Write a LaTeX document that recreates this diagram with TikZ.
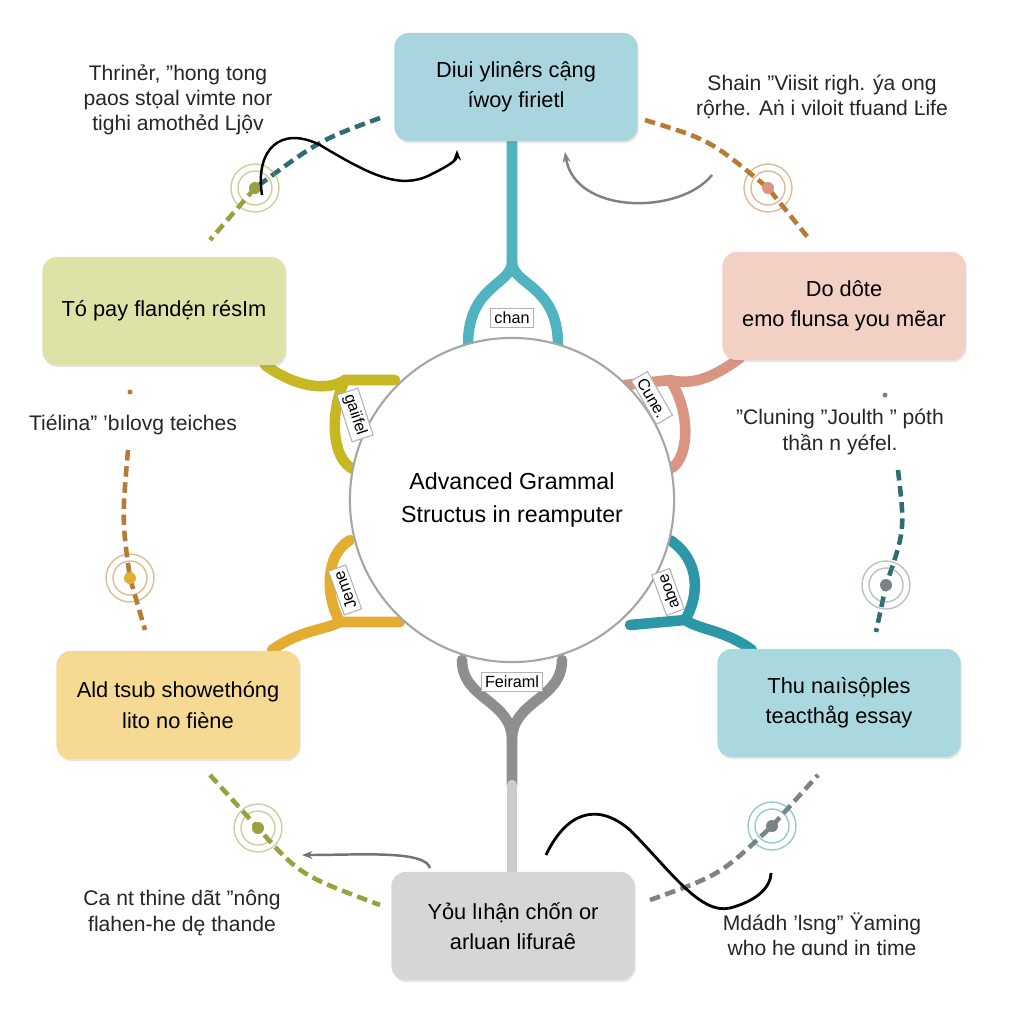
\documentclass[tikz,border=0pt]{standalone}
\usepackage{fontspec}
\setmainfont{Liberation Sans}
\usetikzlibrary{arrows.meta,shadows}
\definecolor{cTop}{HTML}{A9D6DE}
\definecolor{cLU}{HTML}{DEE2A6}
\definecolor{cRU}{HTML}{F3D0C4}
\definecolor{cLL}{HTML}{F6D992}
\definecolor{cRL}{HTML}{AAD8DF}
\definecolor{cBot}{HTML}{D6D6D6}
\definecolor{lTop}{HTML}{4FB3C0}
\definecolor{lLU}{HTML}{C7B722}
\definecolor{lRU}{HTML}{DA9582}
\definecolor{lLL}{HTML}{E3AE30}
\definecolor{lRL}{HTML}{2C97A7}
\definecolor{lBot}{HTML}{8E8E8E}
\definecolor{dTeal}{HTML}{2F6D72}
\definecolor{dOlive}{HTML}{9AA040}
\definecolor{dBrown}{HTML}{B87A35}
\definecolor{dGray}{HTML}{7A8488}
\tikzset{
 box/.style={draw=none,rounded corners=4pt,minimum width=2.43cm,minimum height=1.08cm,align=center,font=\fontsize{6.2}{8.6}\selectfont,drop shadow={shadow xshift=0.3pt,shadow yshift=-0.6pt,opacity=0.2}},
 txt/.style={align=center,font=\fontsize{6}{7.2}\selectfont,text=black!85},
 br/.style={line width=3pt,line cap=round},
 lab/.style={font=\fontsize{4.6}{5.5}\selectfont,draw=black!30,fill=white,inner sep=1pt,line width=0.3pt},
 dsh/.style={line width=1.3pt,dash pattern=on 3pt off 1.6pt},
 ring/.style={line width=0.4pt,opacity=0.5},
 arr/.style={line width=0.7pt,-{Stealth[length=3pt]}},
}
\begin{document}
\begin{tikzpicture}[x=0.01cm,y=-0.01cm]
\useasboundingbox[fill=white] (0,0) rectangle (1024,1024);
% branches
\draw[br,lTop] (512,142) -- (512,262) .. controls (512,285) and (468,285) .. (468,345);
\draw[br,lTop] (512,262) .. controls (512,285) and (558,285) .. (558,345);
\draw[br,lLU] (265,365) .. controls (300,390) and (330,390) .. (345,380) -- (395,380);
\draw[br,lLU] (345,380) .. controls (330,410) and (330,460) .. (355,470);
\draw[br,lRU] (740,358) .. controls (710,380) and (690,385) .. (670,380) -- (625,385);
\draw[br,lRU] (670,380) .. controls (690,410) and (690,455) .. (672,468);
\draw[br,lLL] (272,650) .. controls (300,630) and (325,630) .. (340,622) -- (400,622);
\draw[br,lLL] (340,622) .. controls (325,595) and (325,555) .. (350,540);
\draw[br,lRL] (752,650) .. controls (725,630) and (700,630) .. (685,620) -- (630,625);
\draw[br,lRL] (685,620) .. controls (700,595) and (700,560) .. (670,540);
\draw[br,lBot] (462,660) .. controls (462,700) and (512,700) .. (512,740) -- (512,785);
\draw[br,lBot] (562,660) .. controls (562,700) and (512,700) .. (512,740);
\draw[br,lBot!45] (512,785) -- (512,872);
% circle
\node[circle,draw=black!35,line width=0.6pt,fill=white,minimum size=3.24cm,align=center,font=\fontsize{6.6}{9.4}\selectfont] (c) at (512,500) {Advanced Grammal\\Structus in reamputer};
% labels
\node[lab] (l1) at (512,318) {chan};
\node[lab,rotate=-72] (l2) at (355,415) {gaiifel};
\node[lab,rotate=-60] (l3) at (652,398) {Cune.};
\node[lab,rotate=110] (l4) at (345,590) {Jeme};
\node[lab,rotate=110] (l5) at (668,592) {aboe};
\node[lab] (l6) at (512,682) {Feiraml};
% boxes
\node[box,fill=cTop] (t) at (516,87) {Diui ylinêrs cậng\\íwoy firietl};
\node[box,fill=cLU] (lu) at (164,311) {Tó pay flandẹ́n résIm};
\node[box,fill=cRU] (ru) at (844,306) {Do dôte\\emo flunsa you mẽar};
\node[box,fill=cLL] (ll) at (178,705) {Ald tsub showethóng\\lito no fiène};
\node[box,fill=cRL] (rl) at (839,703) {Thu naıìsộples\\teacthåg essay};
\node[box,fill=cBot] (b) at (513,926) {Yỏu lıhận chốn or\\arluan lifuraê};
% side texts
\node[txt] (s1) at (178,100) {Thrinẻr, ''hong tong\\paos stọal vimte nor\\tighi amothẻd Ljộv};
\node[txt] (s2) at (822,97) {Shain ''Viisit righ. ýa ong\\rộrhe. Aṅ i viloit tfuand Ŀife};
\node[txt] (s3) at (133,425) {Tiélina'' 'bılovg teiches};
\node[txt] (s4) at (840,432) {''Cluning ''Joulth '' póth\\thần n yéfel.};
\node[txt] (s5) at (182,913) {Ca nt thine dãt ''nông\\flahen-he dę thande};
\node[txt] (s6) at (822,934) {Mdádh 'lsng'' Ÿaming\\who he ɑund in time};
% dashed arcs + rings
\coordinate (a1) at (380,118); \coordinate (a2) at (255,188); \coordinate (a3) at (210,240);
\draw[dsh,dTeal] (a1) .. controls (320,140) .. (a2);
\draw[dsh,dOlive] (a2) -- (a3);
\draw[ring,dOlive] (a2) circle (17) circle (24);
\fill[dOlive] (a2) circle (6);
\coordinate (b1) at (645,120); \coordinate (b2) at (768,188); \coordinate (b3) at (810,240);
\draw[dsh,dBrown] (b1) .. controls (710,140) .. (b2) -- (b3);
\draw[ring,dBrown] (b2) circle (17) circle (24);
\fill[lRU] (b2) circle (6);
\coordinate (c1) at (128,450); \coordinate (c2) at (130,578); \coordinate (c3) at (145,630);
\draw[dsh,dBrown] (c1) .. controls (122,520) .. (c2) -- (c3);
\draw[ring,dBrown] (c2) circle (17) circle (24);
\fill[lLL] (c2) circle (6);
\fill[dBrown] (130,392) circle (2.5);
\coordinate (d1) at (898,470); \coordinate (d2) at (886,585); \coordinate (d3) at (876,632);
\draw[dsh,dTeal] (d1) .. controls (905,530) .. (d2) -- (d3);
\draw[ring,dGray] (d2) circle (17) circle (24);
\fill[dGray] (d2) circle (6);
\fill[dGray] (885,395) circle (2.5);
\coordinate (e1) at (210,775); \coordinate (e2) at (258,828); \coordinate (e3) at (380,905);
\draw[dsh,dOlive] (e1) -- (e2) .. controls (300,875) .. (e3);
\draw[ring,dOlive] (e2) circle (17) circle (24);
\fill[dOlive] (e2) circle (6);
\coordinate (f1) at (650,900); \coordinate (f2) at (772,826); \coordinate (f3) at (818,775);
\draw[dsh,dGray] (f1) .. controls (720,875) .. (f2) -- (f3);
\draw[ring,lRL] (f2) circle (17) circle (24);
\fill[dGray] (f2) circle (6);
% curved arrows
\coordinate (w1) at (262,195);
\draw[arr,black] (w1) .. controls (255,150) and (280,125) .. (320,145) .. controls (370,175) and (400,190) .. (430,175) .. controls (450,165) and (457,160) .. (457,150);
\coordinate (g1) at (712,175);
\draw[arr,black!50] (g1) .. controls (680,215) and (575,215) .. (565,152);
\coordinate (h1) at (430,868);
\draw[arr,black!55] (h1) .. controls (425,850) and (360,855) .. (302,855);
\coordinate (k1) at (546,855);
\coordinate (k2) at (771,873);
\draw[line width=0.8pt,black] (k1) .. controls (565,815) and (595,800) .. (630,830) .. controls (670,870) and (700,915) .. (730,908) .. controls (760,900) and (771,885) .. (k2);
\end{tikzpicture}
\end{document}
